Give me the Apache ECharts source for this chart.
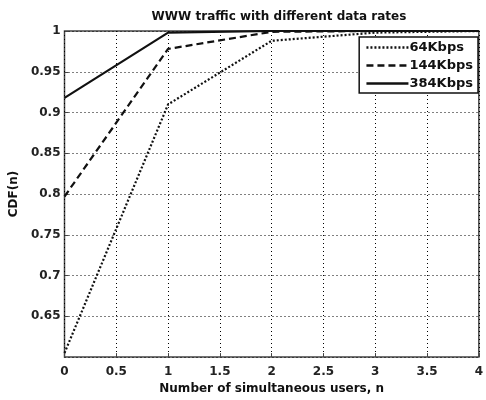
<!DOCTYPE html>
<html>
<head>
    <meta charset="utf-8">
    <title>WWW traffic</title>
    <script src="https://cdn.jsdelivr.net/npm/echarts@6/dist/echarts.min.js"></script>
</head>
<body style="margin:0">
<div id="chart1" style="width:486px;height:400px;"></div>
<script type="text/javascript">
    // 数据
    let users = [0, 1, 2, 3, 4]
    let kbps64 = [0.605, 0.910, 0.988, 0.998, 1.000]
    let kbps144 = [0.797, 0.978, 0.999, 1.000, 1.000]
    let kbps384 = [0.918, 0.998, 1.000, 1.000, 1.000]
    let seriesNames = ['64Kbps', '144Kbps', '384Kbps']

    let pairs = function (ys) {
        return users.map((x, i) => [x, ys[i]])
    }

    let font = 'DejaVu Sans, Verdana, sans-serif'
    let gridLine = {show: true, lineStyle: {color: '#000', type: [1, 3], width: 1}}

    let myChart1 = echarts.init(document.getElementById('chart1'))
    myChart1.setOption({
        animation: false,
        title: {
            text: 'WWW traffic with different data rates',
            left: 274, top: 6, textAlign: 'center',
            textStyle: {fontFamily: font, fontSize: 12, fontWeight: 'bold', color: '#111'}
        },
        legend: {
            data: seriesNames,
            right: 8, top: 37,
            orient: 'vertical',
            itemWidth: 42, itemHeight: 10, itemGap: 5,
            backgroundColor: '#fff', borderColor: '#111', borderWidth: 1.5,
            padding: [4, 5, 3, 6],
            itemStyle: {opacity: 0},
            lineStyle: {width: 2.5},
            textStyle: {fontFamily: font, fontSize: 13, fontWeight: 'bold', color: '#111', padding: [0, 0, 0, -4]}
        },
        grid: {
            left: 63, right: 2, top: 31, bottom: 38,
            show: true, borderColor: '#444', borderWidth: 1.5
        },
        xAxis: {
            type: 'value', min: 0, max: 4, interval: 0.5,
            name: 'Number of simultaneous users, n',
            nameLocation: 'middle', nameGap: 24,
            nameTextStyle: {fontFamily: font, fontSize: 12, fontWeight: 'bold', color: '#111'},
            axisLine: {show: false},
            axisTick: {show: true, inside: true, length: 4, lineStyle: {color: '#444'}},
            axisLabel: {fontFamily: font, fontSize: 12, fontWeight: 'bold', color: '#222', margin: 9},
            splitLine: gridLine
        },
        yAxis: {
            type: 'value', min: 0.6, max: 1, interval: 0.05,
            name: 'CDF(n)',
            nameLocation: 'middle', nameGap: 40,
            nameTextStyle: {fontFamily: font, fontSize: 12, fontWeight: 'bold', color: '#111'},
            axisLine: {show: false},
            axisTick: {show: true, inside: true, length: 4, lineStyle: {color: '#444'}},
            axisLabel: {
                fontFamily: font, fontSize: 12, fontWeight: 'bold', color: '#222', margin: 4,
                showMinLabel: false,
                formatter: v => String(Math.round(v * 100) / 100)
            },
            splitLine: gridLine
        },
        series: [{
            name: seriesNames[0], type: 'line', data: pairs(kbps64),
            symbol: 'none', color: '#111',
            lineStyle: {color: '#111', width: 2.2, type: [2, 2]}
        }, {
            name: seriesNames[1], type: 'line', data: pairs(kbps144),
            symbol: 'none', color: '#111',
            lineStyle: {color: '#111', width: 2.2, type: [7, 4]}
        }, {
            name: seriesNames[2], type: 'line', data: pairs(kbps384),
            symbol: 'none', color: '#111',
            lineStyle: {color: '#111', width: 2.2, type: 'solid'}
        }]
    })
</script>
</body>
</html>
